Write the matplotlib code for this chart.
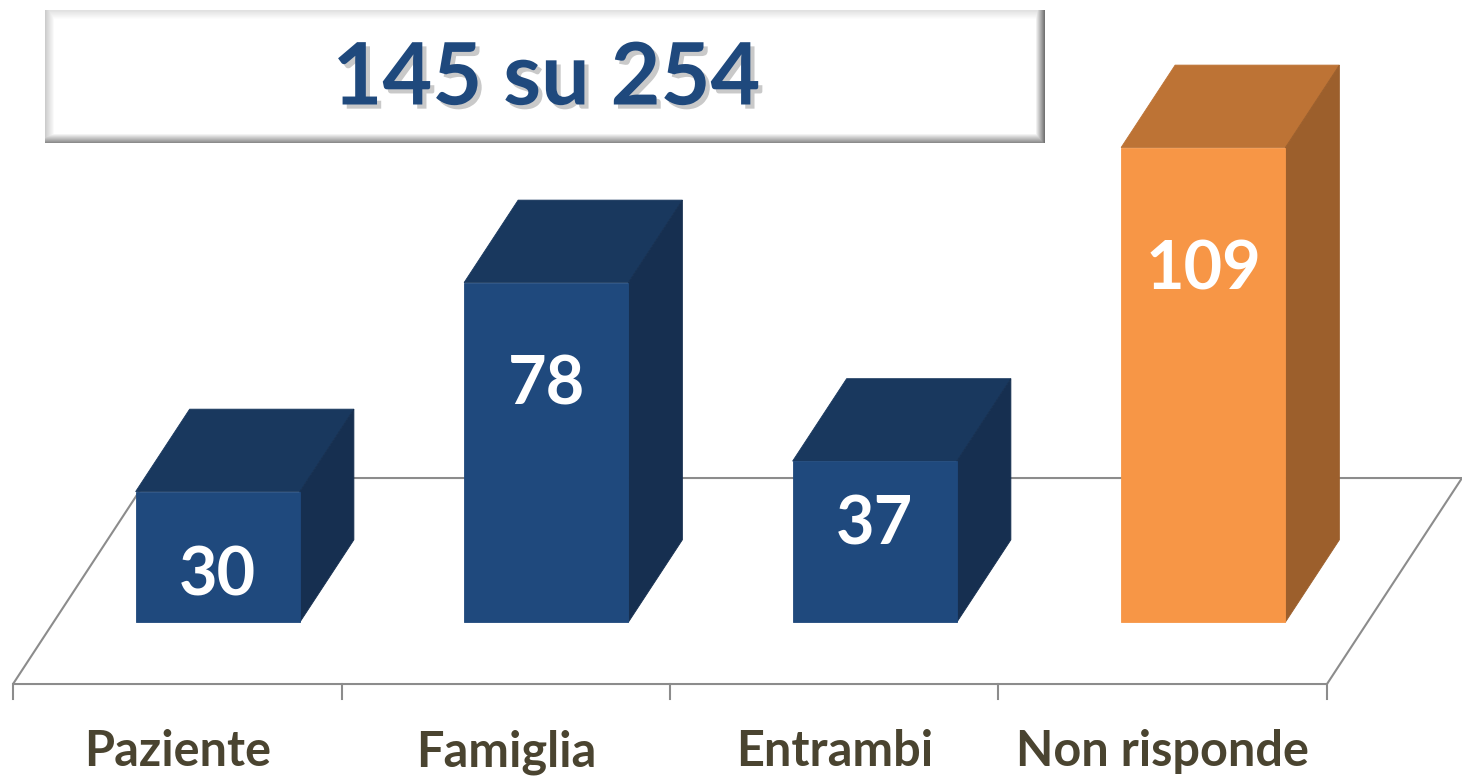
import matplotlib
matplotlib.use("Agg")
import matplotlib.pyplot as plt
import matplotlib.patheffects as pe
from matplotlib.patches import Polygon
import numpy as np

# Data
categories = ["Paziente", "Famiglia", "Entrambi", "Non risponde"]
values = [30, 78, 37, 109]
title_text = "145 su 254"

# Styling
front_cols = ["#1f497d", "#1f497d", "#1f497d", "#f79646"]
top_cols = ["#19385e", "#19385e", "#19385e", "#bd7335"]
side_cols = ["#162f50", "#162f50", "#162f50", "#9c5f2c"]
label_frac = [0.38, 0.71, 0.63, 0.75]   # where the value label sits on each bar
line_col = "#8c8c8c"
text_col = "#4a4430"

# oblique projection of the floor depth
DX, DY = 0.411, 47.3
d0, d1 = 0.30, 0.70      # front/back of bars as a fraction of the floor depth
bw = 0.5

plt.rcParams["font.family"] = ["Lato", "DejaVu Sans"]
fig = plt.figure(figsize=(14.62, 7.78), dpi=100)
ax = fig.add_axes([0, 0, 1, 1])
ax.set_xlim(-0.0396, 4.411)
ax.set_ylim(-21.58, 157.06)
ax.axis("off")

n = len(categories)

# floor
floor = Polygon([(0, 0), (n, 0), (n + DX, DY), (DX, DY)], closed=True,
                facecolor="white", edgecolor=line_col, lw=1.5, zorder=1)
ax.add_patch(floor)
for i in range(n + 1):
    ax.plot([i, i], [0, -3.5], color=line_col, lw=1.5, zorder=1)

# bars
for i, (v, fc, tc, sc) in enumerate(zip(values, front_cols, top_cols, side_cols)):
    x0 = i + 0.5 - bw / 2 + d0 * DX
    x1 = x0 + bw
    y0 = d0 * DY
    ox, oy = (d1 - d0) * DX, (d1 - d0) * DY
    ax.add_patch(Polygon([(x0, y0 + v), (x1, y0 + v), (x1 + ox, y0 + v + oy), (x0 + ox, y0 + v + oy)],
                         closed=True, facecolor=tc, edgecolor=tc, lw=0.6, zorder=3))
    ax.add_patch(Polygon([(x1, y0), (x1 + ox, y0 + oy), (x1 + ox, y0 + v + oy), (x1, y0 + v)],
                         closed=True, facecolor=sc, edgecolor=sc, lw=0.6, zorder=3))
    ax.bar(x0 + bw / 2, v, width=bw, bottom=y0, color=fc, edgecolor=fc, lw=0.6, zorder=3.5)
    ax.text(x0 + bw / 2, y0 + v * label_frac[i] - 1.0, str(v), color="white", fontsize=48,
            fontweight="bold", ha="center", va="center", zorder=4)
    ax.text(i + 0.5, -15.6, categories[i], color=text_col, fontsize=35,
            fontweight="bold", ha="center", va="center", zorder=4)

# title box with a bevelled edge
bx0, bx1, by0, by1 = 45, 1045, 10, 143
W, H = bx1 - bx0, by1 - by0
xx, yy = np.meshgrid(np.arange(W), np.arange(H))
bev = 9.0
img = np.ones((H, W))
left = np.clip(xx / bev, 0, 1)
right = np.clip((W - 1 - xx) / bev, 0, 1)
top = np.clip(yy / bev, 0, 1)
bottom = np.clip((H - 1 - yy) / bev, 0, 1)
img = np.minimum(img, 0.80 + 0.20 * left)
img = np.minimum(img, 0.45 + 0.55 * right)
img = np.minimum(img, 0.88 + 0.12 * top)
img = np.minimum(img, 0.55 + 0.45 * bottom)
fig.figimage(img, xo=bx0, yo=778 - by1, cmap="gray", vmin=0, vmax=1, zorder=1)

t = fig.text((bx0 + bx1) / 2 / 1462 + 0.001, 1 - 80 / 778, title_text, color="#1f497d",
             fontsize=62, fontweight="bold", ha="center", va="center", zorder=5)
t.set_path_effects([pe.SimplePatchShadow(offset=(3, -3), shadow_rgbFace="#888888", alpha=0.45),
                    pe.Normal()])

fig.savefig("out.png", dpi=100)
